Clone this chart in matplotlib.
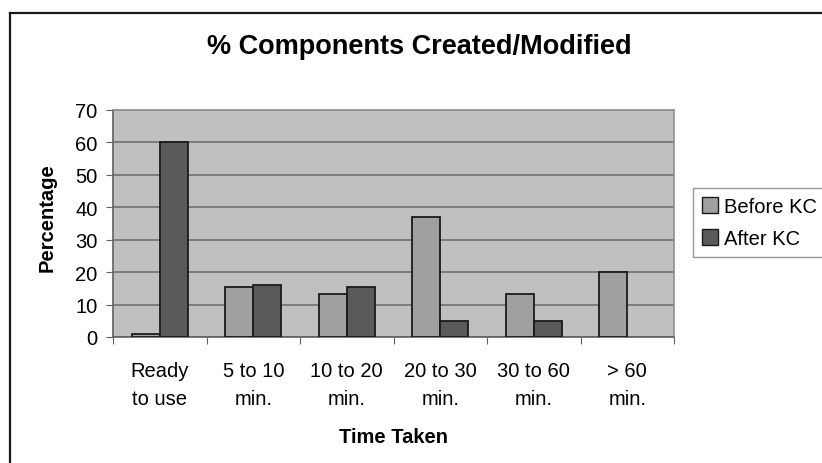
import matplotlib
matplotlib.use("Agg")
import matplotlib.pyplot as plt
import numpy as np
from matplotlib.patches import Patch
from matplotlib.lines import Line2D

categories = ["Ready\nto use", "5 to 10\nmin.", "10 to 20\nmin.", "20 to 30\nmin.", "30 to 60\nmin.", "> 60\nmin."]
before_kc = [1, 15.3, 13.3, 37, 13.3, 20]
after_kc = [60, 16, 15.3, 5, 5, 0]
series_names = ["Before KC", "After KC"]
yticks = [0, 10, 20, 30, 40, 50, 60, 70]

plt.rcParams['font.family'] = ['Liberation Sans', 'DejaVu Sans']

W, H = 822, 464
fig = plt.figure(figsize=(W / 100, H / 100), dpi=100)
fig.patch.set_facecolor("white")

def fx(px):
    return px / W

def fy(py):
    return 1 - py / H

ax = fig.add_axes([fx(113), fy(338), fx(674) - fx(113), fy(111) - fy(338)])
ax.set_facecolor("#c0c0c0")

x = np.arange(len(categories))
bw = 0.3
for offset, vals, col in [(-bw / 2, before_kc, "#a0a0a0"), (bw / 2, after_kc, "#5a5a5a")]:
    vals = np.asarray(vals, dtype=float)
    lw = np.where(vals > 0, 1.3, 0.0)
    ax.bar(x + offset, vals, bw, color=col, edgecolor="#1a1a1a", linewidth=lw, zorder=3)

ax.set_xlim(-0.5, len(categories) - 0.5)
ax.set_ylim(0, 70)
ax.set_yticks(yticks)
ax.set_yticklabels([str(v) for v in yticks], fontsize=14.5)
ax.yaxis.grid(True, color="#707070", linewidth=1.2, zorder=1)
ax.set_axisbelow(True)

ax.set_xticks(np.arange(len(categories) + 1) - 0.5, minor=False)
ax.set_xticklabels([])
ax.set_xticks(x, minor=True)
ax.set_xticklabels(categories, minor=True, fontsize=14.5, linespacing=1.65)
ax.tick_params(axis="x", which="minor", length=0, pad=17)
ax.tick_params(axis="x", which="major", length=5, color="#606060", direction="out")
ax.tick_params(axis="y", length=5, color="#606060", pad=6)

for side in ["top", "right"]:
    ax.spines[side].set_color("#909090")
    ax.spines[side].set_linewidth(1.2)
for side in ["left", "bottom"]:
    ax.spines[side].set_color("#606060")
    ax.spines[side].set_linewidth(1.2)

fig.text(fx(419.5), fy(47), "% Components Created/Modified", fontsize=19.5,
         fontweight="bold", ha="center", va="center")
fig.text(fx(47.5), fy(218), "Percentage", fontsize=14.5, fontweight="bold",
         rotation=90, ha="center", va="center")
fig.text(fx(393.5), fy(438), "Time Taken", fontsize=14.5, fontweight="bold",
         ha="center", va="center")

handles = [Patch(facecolor="#a0a0a0", edgecolor="#1a1a1a", linewidth=1.0),
           Patch(facecolor="#5a5a5a", edgecolor="#1a1a1a", linewidth=1.0)]
leg = fig.legend(handles, series_names, loc="upper left",
                 bbox_to_anchor=(fx(693), fy(189)), fontsize=14.5,
                 frameon=True, fancybox=False, handlelength=0.8, handleheight=0.8,
                 handletextpad=0.3, borderpad=0.45, labelspacing=0.65,
                 borderaxespad=0)
leg.get_frame().set_edgecolor("#808080")
leg.get_frame().set_linewidth(1.0)

# outer border (left and top visible)
fig.add_artist(Line2D([fx(10), fx(10)], [fy(14), 0], transform=fig.transFigure,
                      color="#1a1a1a", linewidth=1.6))
fig.add_artist(Line2D([fx(10), 1], [fy(14), fy(14)], transform=fig.transFigure,
                      color="#1a1a1a", linewidth=1.6))

fig.savefig("out.png", dpi=100)
